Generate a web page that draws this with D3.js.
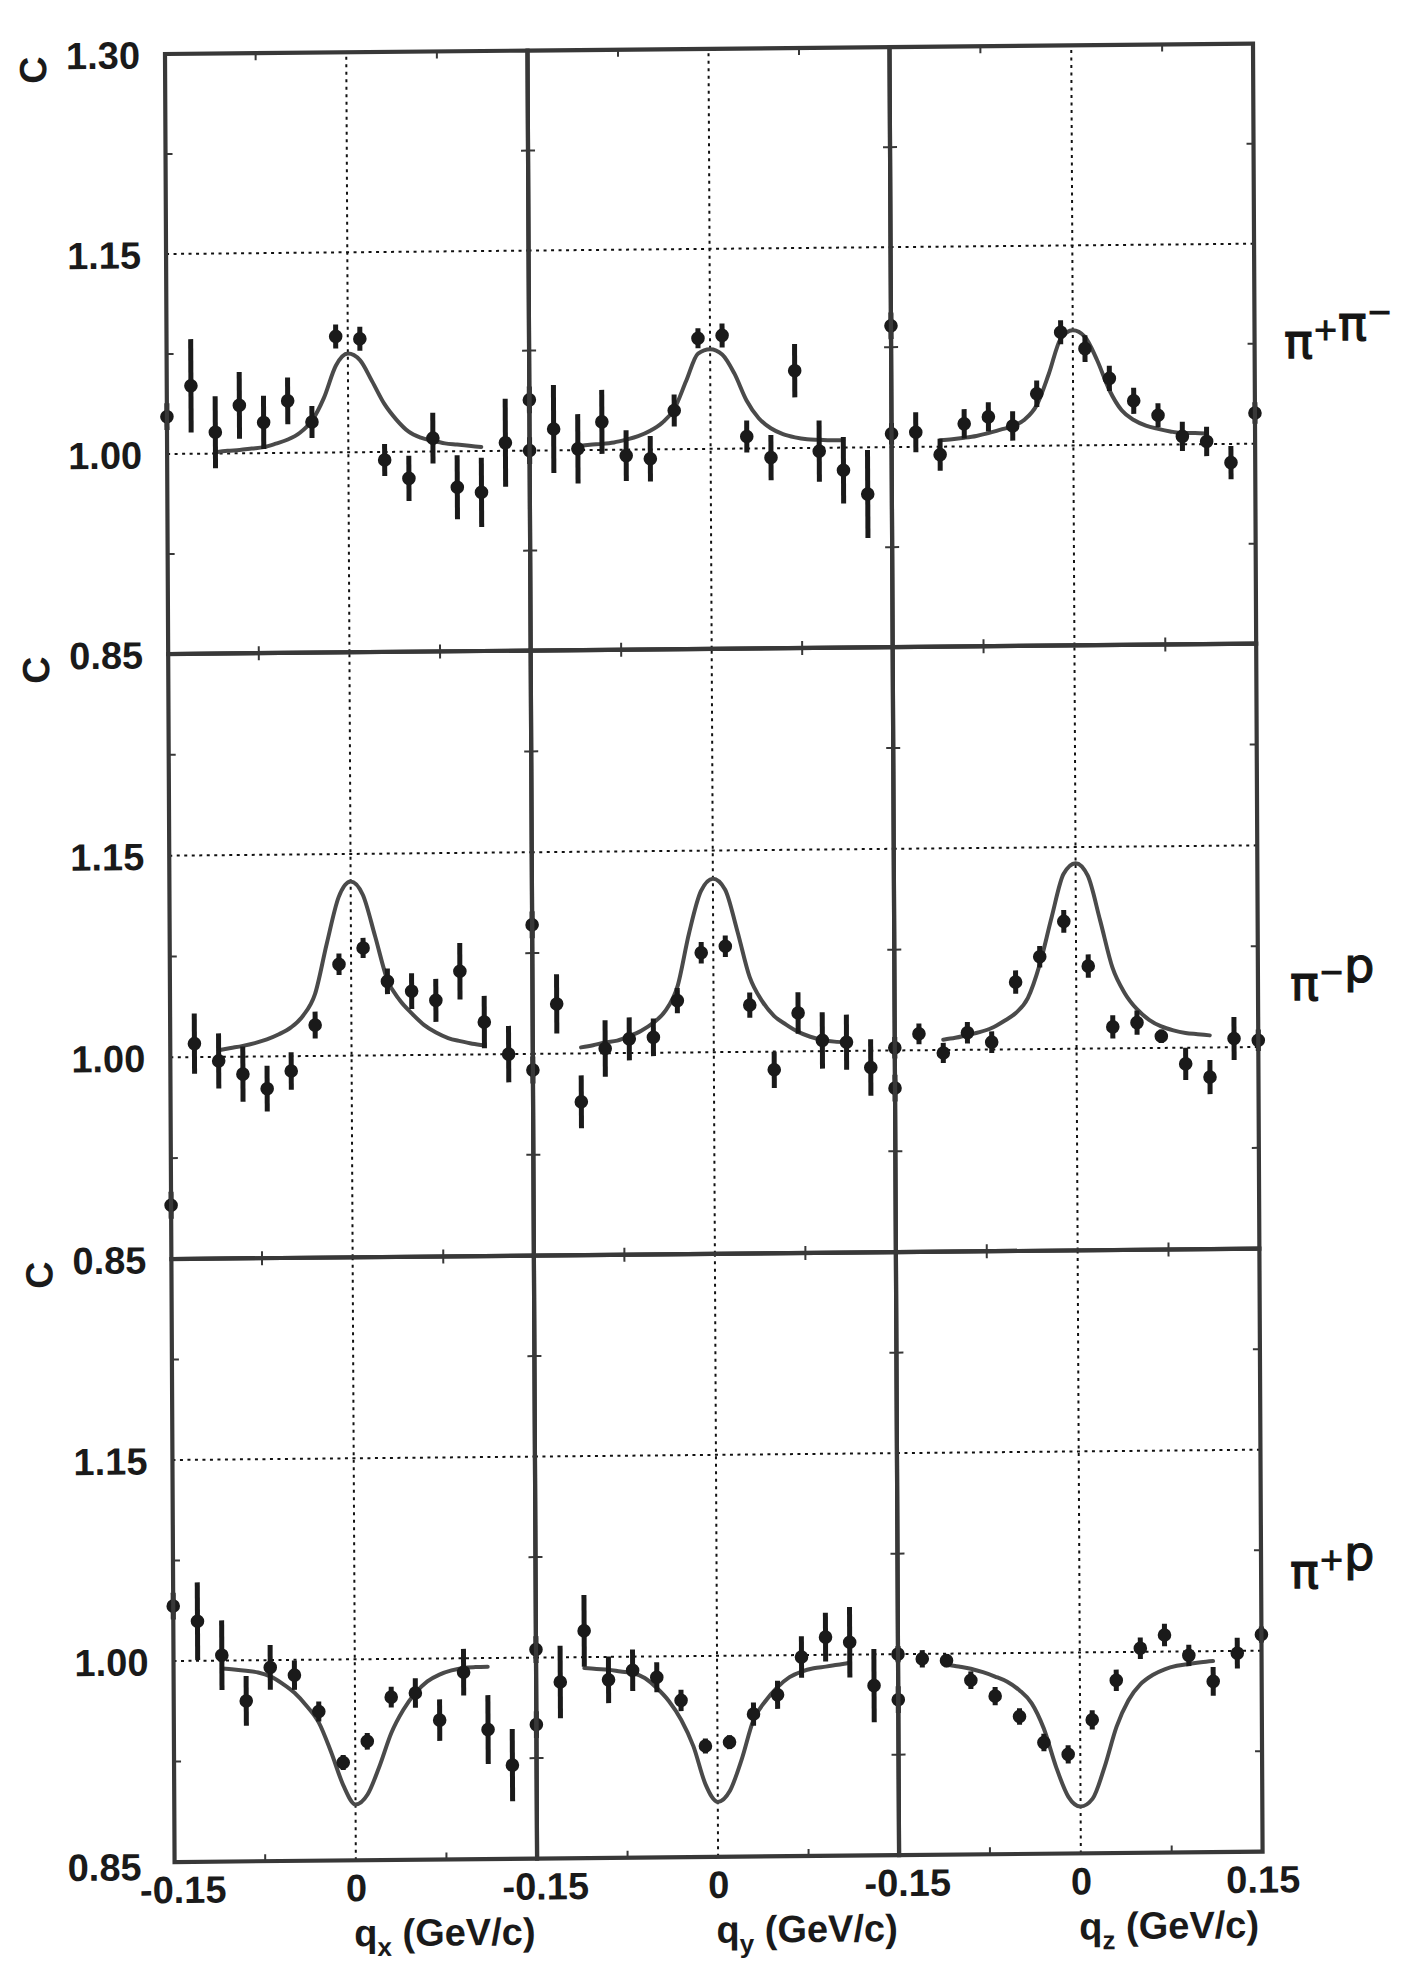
<!DOCTYPE html>
<html>
<head>
<meta charset="utf-8">
<script src="https://cdn.jsdelivr.net/npm/d3@7"></script>
<style>
  html, body { margin: 0; padding: 0; background: #fff; }
  svg { display: block; }
</style>
</head>
<body>
<script>
// q bins (GeV/c) at which the correlation C is measured
const qBins = [-0.15, -0.13, -0.11, -0.09, -0.07, -0.05, -0.03, -0.01,
                0.01,  0.03,  0.05,  0.07,  0.09,  0.11,  0.13,  0.15];
// q points of the fitted curves
const qFit = [-0.11, -0.10, -0.09, -0.08, -0.07, -0.06, -0.05, -0.04, -0.03, -0.02, -0.01, 0,
               0.01,  0.02,  0.03,  0.04,  0.05,  0.06,  0.07,  0.08,  0.09,  0.10,  0.11];

const pairLabels = [["π", "+", "π", "−"], ["π", "−", "p"], ["π", "+", "p"]];
const axisNames = ["x", "y", "z"];
const yTickValues = [1.00, 1.15];
const xTickLabels = ["-0.15", "0", "0.15"];

// pi+ pi-
const cPiPiQx   = [1.028, 1.051, 1.016, 1.036, 1.023, 1.039, 1.023, 1.087, 1.085, 0.994, 0.980, 1.010, 0.973, 0.969, 1.006, 1.038];
const errPiPiQx = [0.010, 0.035, 0.027, 0.025, 0.020, 0.0175, 0.012, 0.009, 0.009, 0.012, 0.017, 0.019, 0.024, 0.026, 0.033, 0.010];
const fitPiPiQx = [1.001, 1.002, 1.0025, 1.0035, 1.0045, 1.007, 1.010, 1.015, 1.024, 1.041, 1.065, 1.074,
                   1.069, 1.053, 1.036, 1.024, 1.015, 1.0105, 1.008, 1.006, 1.005, 1.004, 1.003];
const cPiPiQy   = [1.000, 1.016, 1.001, 1.021, 0.9955, 0.993, 1.029, 1.083, 1.085, 1.009, 0.993, 1.058, 0.9975, 0.983, 0.965, 1.091];
const errPiPiQy = [0.010, 0.033, 0.026, 0.024, 0.019, 0.017, 0.012, 0.0075, 0.009, 0.012, 0.017, 0.020, 0.023, 0.025, 0.033, 0.010];
const fitPiPiQy = [1.003, 1.004, 1.0045, 1.0055, 1.0075, 1.010, 1.014, 1.020, 1.030, 1.051, 1.0715, 1.0747,
                   1.0707, 1.0564, 1.036, 1.0226, 1.015, 1.0105, 1.008, 1.0065, 1.006, 1.0055, 1.0055];
const cPiPiQz   = [1.010, 1.011, 0.994, 1.017, 1.022, 1.015, 1.039, 1.085, 1.0725, 1.050, 1.033, 1.022, 1.006, 1.002, 0.986, 1.023];
const errPiPiQz = [0.008, 0.015, 0.012, 0.011, 0.011, 0.011, 0.010, 0.009, 0.010, 0.0095, 0.0098, 0.009, 0.011, 0.011, 0.0125, 0.008];
const fitPiPiQz = [1.0048, 1.0055, 1.0065, 1.0078, 1.0098, 1.0123, 1.0148, 1.0198, 1.0306, 1.0537, 1.080, 1.0863,
                   1.0813, 1.0637, 1.0411, 1.026, 1.0186, 1.0143, 1.0118, 1.0098, 1.0085, 1.0085, 1.008];

// pi- p
const cPimPQx   = [0.890, 1.010, 0.997, 0.987, 0.976, 0.989, 1.023, 1.068, 1.080, 1.055, 1.0475, 1.0405, 1.062, 1.024, 1.000, 1.096];
const errPimPQx = [0.010, 0.0224, 0.0205, 0.0205, 0.017, 0.014, 0.010, 0.008, 0.0075, 0.0095, 0.0133, 0.016, 0.021, 0.0195, 0.021, 0.010];
const fitPimPQx = [1.005, 1.0065, 1.008, 1.010, 1.0127, 1.0164, 1.0214, 1.030, 1.046, 1.0836, 1.118, 1.1296,
                   1.1196, 1.0886, 1.056, 1.041, 1.031, 1.0224, 1.0166, 1.0124, 1.010, 1.008, 1.0067];
const cPimPQy   = [0.988, 1.037, 0.964, 1.0035, 1.0105, 1.0115, 1.0386, 1.074, 1.0787, 1.0348, 0.9865, 1.0286, 1.008, 1.0065, 0.9875, 0.972];
const errPimPQy = [0.010, 0.022, 0.0197, 0.021, 0.016, 0.014, 0.0094, 0.008, 0.008, 0.0094, 0.0135, 0.0154, 0.021, 0.0205, 0.021, 0.010];
const fitPimPQy = [1.0045, 1.006, 1.008, 1.0093, 1.0125, 1.0165, 1.0223, 1.031, 1.0486, 1.0887, 1.1198, 1.129,
                   1.121, 1.090, 1.0557, 1.038, 1.0266, 1.020, 1.0145, 1.0108, 1.0085, 1.007, 1.0065];
const cPimPQz   = [1.002, 1.0122, 0.9978, 1.0127, 1.0055, 1.050, 1.0687, 1.0948, 1.0614, 1.016, 1.019, 1.0087, 0.988, 0.978, 1.0065, 1.005];
const errPimPQz = [0.008, 0.0077, 0.0075, 0.008, 0.008, 0.0087, 0.008, 0.0085, 0.0087, 0.0087, 0.009, 0.005, 0.012, 0.0127, 0.016, 0.008];
const fitPimPQz = [1.0077, 1.009, 1.011, 1.013, 1.016, 1.021, 1.027, 1.038, 1.063, 1.098, 1.130, 1.138,
                   1.1286, 1.0953, 1.060, 1.041, 1.029, 1.021, 1.016, 1.013, 1.011, 1.010, 1.009];

// pi+ p
const cPipPQx   = [1.041, 1.0295, 1.004, 0.9697, 0.9945, 0.9886, 0.9613, 0.923, 0.9387, 0.9715, 0.9744, 0.954, 0.9896, 0.9466, 0.9199, 0.950];
const errPipPQx = [0.010, 0.029, 0.026, 0.0186, 0.0167, 0.011, 0.0075, 0.0056, 0.0062, 0.0078, 0.011, 0.0155, 0.0174, 0.0257, 0.027, 0.010];
const fitPipPQx = [0.994, 0.9933, 0.9923, 0.9908, 0.9878, 0.9824, 0.9754, 0.9655, 0.953, 0.931, 0.906, 0.8916,
                   0.899, 0.920, 0.9449, 0.962, 0.9744, 0.983, 0.988, 0.991, 0.9928, 0.9933, 0.9935];
const cPipPQy   = [1.006, 0.9816, 1.0196, 0.9829, 0.9898, 0.9844, 0.967, 0.9328, 0.9355, 0.9563, 0.9705, 0.9985, 1.0132, 1.0092, 0.9767, 0.966];
const errPipPQy = [0.010, 0.027, 0.0267, 0.0174, 0.0155, 0.0112, 0.008, 0.0056, 0.0052, 0.0087, 0.0105, 0.0155, 0.0182, 0.0263, 0.0273, 0.010];
const fitPipPQy = [0.9918, 0.991, 0.9904, 0.989, 0.9878, 0.984, 0.9764, 0.9665, 0.9526, 0.9328, 0.904, 0.891,
                   0.899, 0.9226, 0.9521, 0.966, 0.9762, 0.9836, 0.9876, 0.990, 0.9912, 0.9925, 0.994];
const cPipPQz   = [1.000, 0.9963, 0.9948, 0.980, 0.968, 0.9526, 0.933, 0.924, 0.9496, 0.9789, 1.0027, 1.0124, 0.997, 0.9774, 0.9983, 1.012];
const errPipPQz = [0.006, 0.0065, 0.005, 0.0066, 0.0068, 0.0062, 0.0065, 0.0068, 0.0072, 0.008, 0.008, 0.0084, 0.008, 0.0107, 0.0115, 0.006];
const fitPipPQz = [0.9918, 0.9903, 0.9886, 0.9859, 0.9826, 0.9786, 0.9722, 0.9625, 0.9434, 0.9146, 0.8923, 0.885,
                   0.8908, 0.9144, 0.9442, 0.964, 0.9759, 0.9826, 0.9868, 0.9893, 0.9906, 0.9918, 0.9926];

const panelData = [
  [[cPiPiQx, errPiPiQx, fitPiPiQx], [cPiPiQy, errPiPiQy, fitPiPiQy], [cPiPiQz, errPiPiQz, fitPiPiQz]],
  [[cPimPQx, errPimPQx, fitPimPQx], [cPimPQy, errPimPQy, fitPimPQy], [cPimPQz, errPimPQz, fitPimPQz]],
  [[cPipPQx, errPipPQx, fitPipPQx], [cPipPQy, errPipPQy, fitPipPQy], [cPipPQz, errPipPQz, fitPipPQz]]
];

// ---- layout ----
const W = 1426, H = 1965;
const colEdges = [165, 527.5, 889.5, 1253];
const rowEdges = [54, 654, 1259, 1862];
const FONT = "'Liberation Sans', Arial, Helvetica, sans-serif";
const INK = "#1a1a1a";
const FRAME = "#383838";
const FITC = "#4a4a4a";

const svg = d3.select("body").append("svg")
  .attr("width", W).attr("height", H)
  .attr("viewBox", `0 0 ${W} ${H}`);
svg.append("rect").attr("width", W).attr("height", H).attr("fill", "#fff");

// the printed page sits very slightly skewed
const page = svg.append("g").attr("transform", "matrix(1,-0.0095,0.0053,1,-0.29,1.58)");

const lineGen = (x, y) => d3.line().x(d => x(d[0])).y(d => y(d[1])).curve(d3.curveMonotoneX);

panelData.forEach((rowSets, r) => {
  rowSets.forEach(([vals, errs, fit], c) => {
    const x = d3.scaleLinear().domain([-0.15, 0.15]).range([colEdges[c], colEdges[c + 1]]);
    const y = d3.scaleLinear().domain([0.85, 1.30]).range([rowEdges[r + 1], rowEdges[r]]);
    const p = page.append("g").attr("class", `panel r${r} c${c}`);

    // dotted reference lines
    yTickValues.forEach(v => {
      p.append("line")
        .attr("x1", x(-0.15)).attr("x2", x(0.15)).attr("y1", y(v)).attr("y2", y(v))
        .attr("stroke", "#111").attr("stroke-width", 2).attr("stroke-dasharray", "3 4.5");
    });
    p.append("line")
      .attr("x1", x(0)).attr("x2", x(0)).attr("y1", y(0.85)).attr("y2", y(1.30))
      .attr("stroke", "#111").attr("stroke-width", 2).attr("stroke-dasharray", "3 4.5");

    // minor ticks on the frame
    const tickLen = 7;
    [0.925, 1.075, 1.225].forEach(v => {
      p.append("line").attr("x1", x(-0.15)).attr("x2", x(-0.15) + tickLen)
        .attr("y1", y(v)).attr("y2", y(v)).attr("stroke", FRAME).attr("stroke-width", 2);
      p.append("line").attr("x1", x(0.15)).attr("x2", x(0.15) - tickLen)
        .attr("y1", y(v)).attr("y2", y(v)).attr("stroke", FRAME).attr("stroke-width", 2);
    });
    [-0.075, 0.075].forEach(v => {
      p.append("line").attr("x1", x(v)).attr("x2", x(v))
        .attr("y1", y(0.85)).attr("y2", y(0.85) - tickLen).attr("stroke", FRAME).attr("stroke-width", 2);
      p.append("line").attr("x1", x(v)).attr("x2", x(v))
        .attr("y1", y(1.30)).attr("y2", y(1.30) + tickLen).attr("stroke", FRAME).attr("stroke-width", 2);
    });

    // fitted curve
    p.append("path")
      .datum(qFit.map((q, i) => [q, fit[i]]))
      .attr("d", lineGen(x, y))
      .attr("fill", "none").attr("stroke", FITC).attr("stroke-width", 4)
      .attr("stroke-linecap", "round");

    // measured points with error bars
    const pts = qBins.map((q, i) => ({ q, v: vals[i], e: errs[i] }));
    p.selectAll("line.err").data(pts).join("line").attr("class", "err")
      .attr("x1", d => x(d.q)).attr("x2", d => x(d.q))
      .attr("y1", d => y(d.v - d.e)).attr("y2", d => y(d.v + d.e))
      .attr("stroke", INK).attr("stroke-width", 5);
    p.selectAll("circle.pt").data(pts).join("circle").attr("class", "pt")
      .attr("cx", d => x(d.q)).attr("cy", d => y(d.v)).attr("r", 6.8)
      .attr("fill", INK);

    // frame
    p.append("rect")
      .attr("x", x(-0.15)).attr("y", y(1.30))
      .attr("width", x(0.15) - x(-0.15)).attr("height", y(0.85) - y(1.30))
      .attr("fill", "none").attr("stroke", FRAME).attr("stroke-width", 4.2);

    // y labels on the left column
    if (c === 0) {
      const vals = r === 0 ? [0.85, 1.00, 1.15, 1.30] : r === 1 ? [0.85, 1.00, 1.15] : [1.00, 1.15];
      const ax = d3.axisLeft(y).tickValues(vals).tickSize(0).tickPadding(25)
        .tickFormat(d3.format(".2f"));
      const ag = p.append("g").attr("transform", `translate(${x(-0.15)},0)`).call(ax);
      ag.select(".domain").remove();
      ag.selectAll("text").attr("font-family", FONT).attr("font-weight", "bold")
        .attr("font-size", 38).attr("fill", INK).attr("dy", "0.36em");
      // axis name
      p.append("text")
        .attr("transform", `translate(${46},${y(1.30) + 15}) rotate(-90)`)
        .attr("text-anchor", "middle")
        .attr("font-family", FONT).attr("font-weight", "bold").attr("font-size", 38)
        .attr("fill", INK).text("C");
      if (r === 2) {
        p.append("text").attr("x", x(-0.15) - 33).attr("y", y(0.85) + 18)
          .attr("text-anchor", "end")
          .attr("font-family", FONT).attr("font-weight", "bold").attr("font-size", 38)
          .attr("fill", INK).text("0.85");
      }
    }

    // q labels on the bottom row
    if (r === 2) {
      const tv = c < 2 ? [-0.15, 0] : [-0.15, 0, 0.15];
      const ax = d3.axisBottom(x).tickValues(tv).tickSize(0).tickPadding(14)
        .tickFormat(v => v === 0 ? xTickLabels[1] : (v < 0 ? xTickLabels[0] : xTickLabels[2]));
      const ag = p.append("g").attr("transform", `translate(0,${y(0.85)})`).call(ax);
      ag.select(".domain").remove();
      ag.selectAll("text").attr("font-family", FONT).attr("font-weight", "bold")
        .attr("font-size", 38).attr("fill", INK);
      ag.selectAll(".tick").filter(d => d === -0.15).select("text").attr("dx", 8);

      const t = p.append("text").attr("x", x(0) - 2).attr("y", y(0.85) + 86)
        .attr("font-family", FONT).attr("font-weight", "bold").attr("font-size", 38)
        .attr("fill", INK);
      t.append("tspan").text("q");
      t.append("tspan").attr("font-size", 26).attr("dy", 10).text(axisNames[c]);
      t.append("tspan").attr("dy", -10).text(" (GeV/c)");
    }
  });
});

// hand-written pair labels at the right
const pairPos = [[1284, 358], [1290, 1000], [1290, 1588]];
pairLabels.forEach((parts, i) => {
  const t = svg.append("text").attr("x", pairPos[i][0]).attr("y", pairPos[i][1])
    .attr("font-family", "'DejaVu Sans', sans-serif").attr("font-size", 48)
    .attr("fill", "#151515").attr("stroke", "#151515").attr("stroke-width", 1.2);
  parts.forEach(s => {
    if (s === "+" || s === "−") {
      t.append("tspan").attr("font-size", 30).attr("dy", -18).text(s);
      t.append("tspan").attr("dy", 18).text("");
    } else {
      t.append("tspan").text(s);
    }
  });
});
</script>
</body>
</html>
